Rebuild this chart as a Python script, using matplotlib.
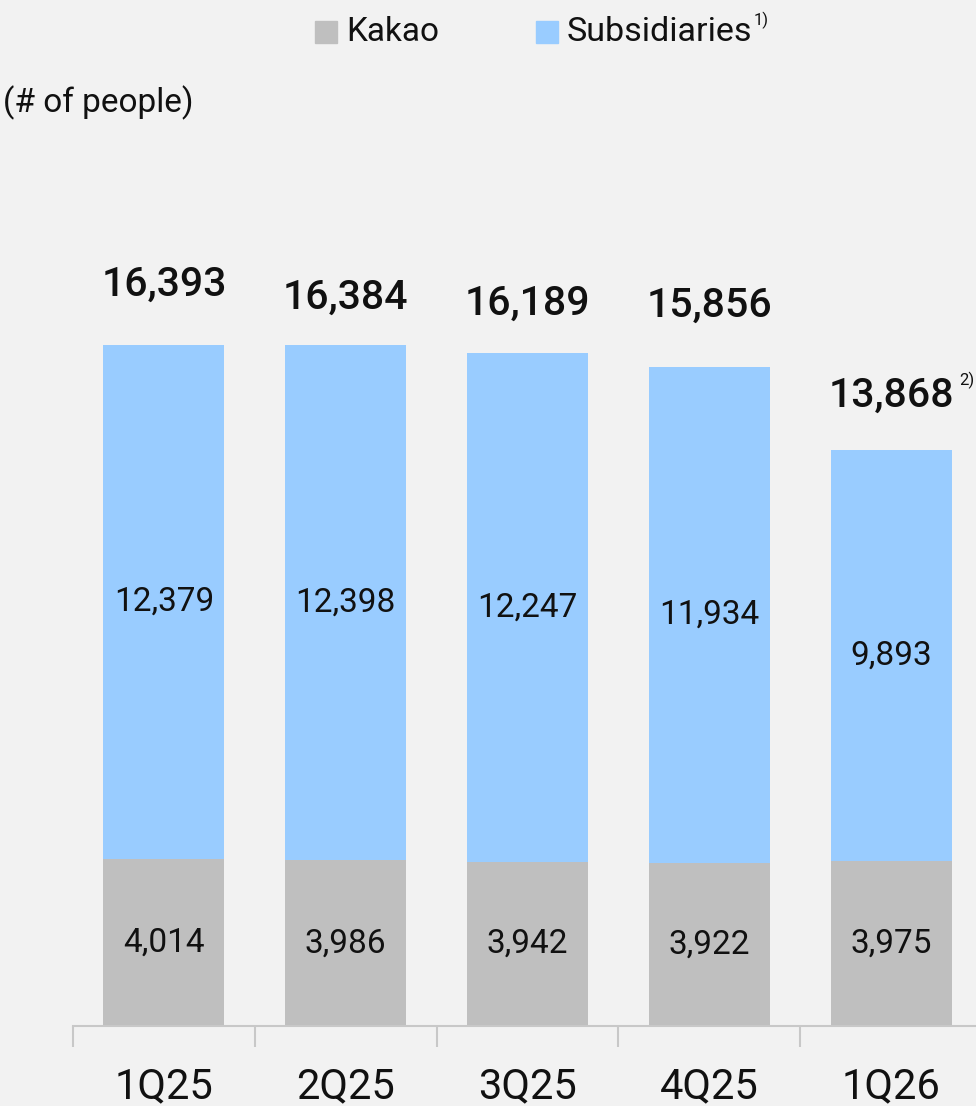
import matplotlib.pyplot as plt
from matplotlib.patches import Rectangle
from matplotlib.ticker import FixedLocator

quarters = ['1Q25', '2Q25', '3Q25', '4Q25', '1Q26']
kakao = [4014, 3986, 3942, 3922, 3975]
subsidiaries = [12379, 12398, 12247, 11934, 9893]
totals = [16393, 16384, 16189, 15856, 13868]

gray = '#bfbfbf'
blue = '#99ccff'
bg = '#f2f2f2'

plt.rcParams['font.family'] = ['Roboto', 'DejaVu Sans']

fig = plt.figure(figsize=(9.76, 11.06), dpi=100, facecolor=bg)
# axes runs a little past the right edge so the last category is cut like the others
ax = fig.add_axes([73 / 976, 80 / 1106, 909 / 976, 831 / 1106])
ax.set_facecolor(bg)

x = range(len(quarters))
ax.bar(x, kakao, width=0.665, color=gray, linewidth=0)
ax.bar(x, subsidiaries, bottom=kakao, width=0.665, color=blue, linewidth=0)

ax.set_xlim(-0.5, 4.5)
ax.set_ylim(0, 20000)

for i in x:
    ax.text(i, kakao[i] / 2, f'{kakao[i]:,}', ha='center', va='center',
            fontsize=24, color='#111111')
    ax.text(i, kakao[i] + subsidiaries[i] / 2, f'{subsidiaries[i]:,}',
            ha='center', va='center', fontsize=24, color='#111111')

# gap between bar top and the centre of each total label, in pixels
label_gap = [60, 47, 50, 61, 54]
total_txt = []
for i in x:
    t = ax.annotate(f'{totals[i]:,}', (i, kakao[i] + subsidiaries[i]),
                    xytext=(0, label_gap[i] * 0.72), textcoords='offset points',
                    ha='center', va='center', fontsize=29.5, fontweight='medium',
                    color='#111111')
    total_txt.append(t)

for side in ['top', 'right', 'left']:
    ax.spines[side].set_visible(False)
ax.spines['bottom'].set_color('#c8c8c8')
ax.spines['bottom'].set_linewidth(1.5)
ax.set_yticks([])
ax.set_xticks(list(x))
ax.set_xticklabels(quarters, fontsize=30, color='#111111')
ax.tick_params(axis='x', which='major', length=0, pad=29)
ax.xaxis.set_minor_locator(FixedLocator([-0.5, 0.5, 1.5, 2.5, 3.5]))
ax.tick_params(axis='x', which='minor', length=15, width=1.5, color='#c8c8c8')

fig.text(3 / 976, 1 - 103 / 1106, '(# of people)', ha='left', va='center',
         fontsize=24, color='#111111')

# legend
fig.patches.append(Rectangle((315 / 976, 1 - 43 / 1106), 22 / 976, 22 / 1106,
                             transform=fig.transFigure, color=gray, figure=fig))
fig.patches.append(Rectangle((536 / 976, 1 - 43 / 1106), 22 / 976, 22 / 1106,
                             transform=fig.transFigure, color=blue, figure=fig))
fig.text(346 / 976, 1 - 32 / 1106, 'Kakao', ha='left', va='center',
         fontsize=24, color='#111111')
sub = fig.text(567 / 976, 1 - 32 / 1106, 'Subsidiaries', ha='left', va='center',
               fontsize=24.5, color='#111111')

fig.canvas.draw()
r = fig.canvas.get_renderer()
bb = sub.get_window_extent(r)
fig.text((bb.x1 + 1) / 976, (bb.y1 - 4) / 1106, '1)', ha='left', va='center',
         fontsize=12, color='#111111')
bb = total_txt[-1].get_window_extent(r)
fig.text((bb.x1 + 5) / 976, (bb.y1 - 4) / 1106, '2)', ha='left', va='center',
         fontsize=12, color='#111111')

fig.savefig('out.png', dpi=100, facecolor=bg)
